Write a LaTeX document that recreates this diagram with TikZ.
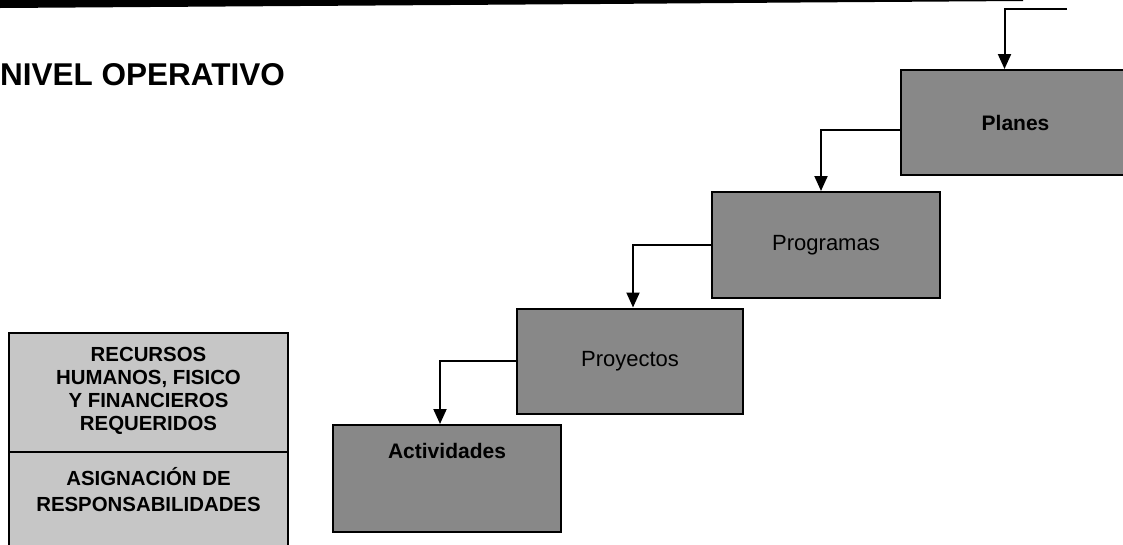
\documentclass[tikz,border=0pt]{standalone}
\usepackage{fontspec}
\setmainfont{Liberation Sans}
\usetikzlibrary{arrows.meta}
\definecolor{stepgray}{RGB}{136,136,136}
\definecolor{sidegray}{RGB}{198,198,198}
\begin{document}
\begin{tikzpicture}[x=1pt,y=-1pt,
  stepbox/.style={draw=black, line width=2pt, fill=stepgray, minimum width=228pt,
    minimum height=106pt, inner sep=0pt, font=\fontsize{22}{26}\selectfont},
  boldlabel/.style={font=\bfseries\fontsize{21}{25}\selectfont},
  sidebox/.style={draw=black, line width=1.6pt, fill=sidegray, minimum width=279pt, inner sep=0pt},
  sidetext/.style={align=center, inner sep=0pt, font=\bfseries\fontsize{20.4}{22.8}\selectfont},
  flow/.style={line width=2pt, -{Triangle[width=13pt,length=15pt]}},
]
\useasboundingbox (0,0) rectangle (1123,544);
% top rule
\fill[black] (0,0) -- (1023,0) -- (1023,1) -- (800,2.5) -- (600,4) -- (0,8) -- cycle;
% title
\node[anchor=base west, inner sep=0pt, font=\bfseries\fontsize{31.5}{36}\selectfont] (title) at (0,85) {NIVEL OPERATIVO};
% steps
\node[stepbox, boldlabel, minimum width=229pt, minimum height=105pt] (pl) at (1015.5,122.5) {Planes};
\node[stepbox] (pg) at (826,245) {Programas};
\node[stepbox, minimum width=226pt, minimum height=105pt] (py) at (630,361) {Proyectos};
\node[stepbox, minimum height=107pt] (ac) at (447,478.5) {};
\node[inner sep=0pt, boldlabel] (actext) at (447,451) {Actividades};
% connectors
\coordinate (topin) at (1067,9);
\draw[flow] (topin) -| ([xshift=-11pt]pl.north);
\draw[flow] ([yshift=-7.5pt]pl.west) -| ([xshift=-5pt]pg.north);
\draw[flow] (pg.west) -| ([xshift=3pt]py.north);
\draw[flow] (py.west) -| ([xshift=-7pt]ac.north);
% side boxes
\node[sidebox, minimum height=119pt] (rec) at (148.5,392.5) {};
\node[sidetext] (rectext) at (148.5,391) {RECURSOS\\HUMANOS, FISICO\\Y FINANCIEROS\\REQUERIDOS};
\node[sidebox, minimum height=100pt] (asg) at (148.5,502) {};
\node[sidetext, font=\bfseries\fontsize{20.4}{26}\selectfont] (asgtext) at (148.5,490) {ASIGNACIÓN DE\\RESPONSABILIDADES};
\end{tikzpicture}
\end{document}
